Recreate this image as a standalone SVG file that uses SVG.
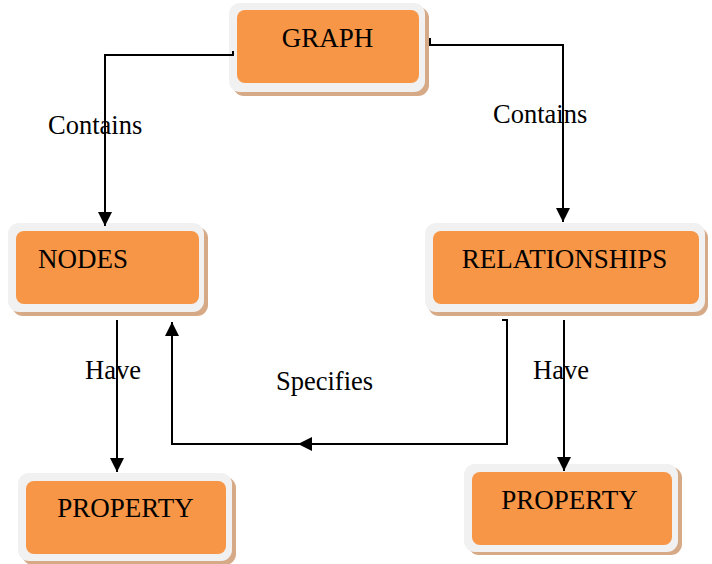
<svg xmlns="http://www.w3.org/2000/svg" width="712" height="564" viewBox="0 0 712 564">
<defs>
<style>
.shadow{fill:#D6A987}
.outer{fill:#F1F1F1}
.inner{fill:#F79646}
.t{font-family:"Liberation Serif","Times New Roman",serif;font-size:27px;fill:#000}
.lbl{font-family:"Liberation Serif","Times New Roman",serif;font-size:26.5px;fill:#000}
.c{fill:none;stroke:#000;stroke-width:2}
</style>
<marker id="arr" viewBox="0 0 14 14" refX="14" refY="7" markerWidth="14" markerHeight="14" markerUnits="userSpaceOnUse" orient="auto">
<path d="M0,0 L14,7 L0,14 Z" fill="#000"/>
</marker>
</defs>
<rect width="712" height="564" fill="#fff"/>
<g id="graph">
<rect class="shadow" x="233" y="7" width="196" height="89" rx="11"/>
<rect class="outer" x="229" y="3" width="196" height="89" rx="11"/>
<rect class="inner" x="237" y="10" width="182" height="73" rx="8"/>
<text class="t" x="327.5" y="47" text-anchor="middle">GRAPH</text>
</g>
<g id="nodes">
<rect class="shadow" x="12" y="227" width="196" height="89" rx="11"/>
<rect class="outer" x="8" y="223" width="196" height="89" rx="11"/>
<rect class="inner" x="16" y="231" width="183" height="73" rx="8"/>
<text class="t" x="38" y="268">NODES</text>
</g>
<g id="relationships">
<rect class="shadow" x="428" y="227" width="280" height="89" rx="11"/>
<rect class="outer" x="425" y="223" width="280" height="89" rx="11"/>
<rect class="inner" x="433" y="231" width="266" height="73" rx="8"/>
<text class="t" x="564.5" y="268" text-anchor="middle">RELATIONSHIPS</text>
</g>
<g id="property-left">
<rect class="shadow" x="22" y="477" width="214" height="88" rx="11"/>
<rect class="outer" x="18" y="473" width="214" height="88" rx="11"/>
<rect class="inner" x="26" y="481" width="200" height="73" rx="8"/>
<text class="t" x="125.5" y="517" text-anchor="middle">PROPERTY</text>
</g>
<g id="property-right">
<rect class="shadow" x="468" y="467" width="214" height="88" rx="11"/>
<rect class="outer" x="464" y="464" width="214" height="88" rx="11"/>
<rect class="inner" x="472" y="472" width="200" height="73" rx="8"/>
<text class="t" x="569.5" y="509" text-anchor="middle">PROPERTY</text>
</g>
<g id="connectors">
<path class="c" d="M233,51 V55 H105 V226" marker-end="url(#arr)"/>
<path class="c" d="M430,38 V45 H563 V222" marker-end="url(#arr)"/>
<path class="c" d="M117,320 V472" marker-end="url(#arr)"/>
<path class="c" d="M564,320 V471" marker-end="url(#arr)"/>
<path class="c" d="M502,320 H507 V444 H172 V322" marker-end="url(#arr)"/>
<path d="M298,444 L312,437 L312,451 Z" fill="#000"/>
</g>
<g id="labels">
<text class="lbl" x="48" y="134">Contains</text>
<text class="lbl" x="493" y="123">Contains</text>
<text class="lbl" x="85" y="379">Have</text>
<text class="lbl" x="533" y="379">Have</text>
<text class="lbl" x="276" y="390">Specifies</text>
</g>
</svg>
